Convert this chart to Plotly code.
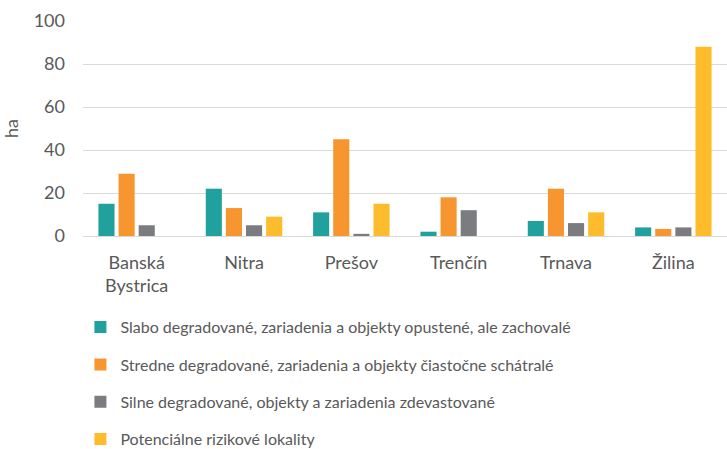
import plotly.graph_objects as go

categories = ["Banská<br>Bystrica", "Nitra", "Prešov", "Trenčín", "Trnava", "Žilina"]
series_names = [
    "Slabo degradované, zariadenia a objekty opustené, ale zachovalé",
    "Stredne degradované, zariadenia a objekty čiastočne schátralé",
    "Silne degradované, objekty a zariadenia zdevastované",
    "Potenciálne rizikové lokality",
]
slabo = [15, 22, 11, 2, 7, 4]
stredne = [29, 13, 45, 18, 22, 3.3]
silne = [5, 5, 1, 12, 6, 4]
potencialne = [0, 9, 15, 0, 11, 88]
colors = ["#21A19E", "#F7952F", "#7B7C80", "#FDBC2C"]
y_ticks = [0, 20, 40, 60, 80, 100]

fig = go.Figure()
for i, (name, vals) in enumerate(zip(series_names, [slabo, stredne, silne, potencialne])):
    fig.add_trace(go.Bar(
        x=categories, y=vals, name=name, legendgroup=f"g{i}",
        marker=dict(color=colors[i], line=dict(width=0)),
    ))

font_family = "Lato, 'Open Sans', sans-serif"
fig.update_layout(
    width=727, height=449,
    margin=dict(l=83, r=0, t=21, b=213, autoexpand=False),
    paper_bgcolor="white", plot_bgcolor="white",
    barmode="group", bargap=0.25, bargroupgap=0.2,
    font=dict(family=font_family, color="#595959", size=16),
    showlegend=True,
    legend=dict(
        orientation="v", x=-0.004, xanchor="left", y=-0.345, yanchor="top",
        font=dict(size=16, color="#595959"), tracegroupgap=13.5,
        itemwidth=30, bgcolor="rgba(0,0,0,0)",
    ),
    xaxis=dict(
        showgrid=False, showline=True, linecolor="#D9D9D9", linewidth=1,
        ticks="", tickfont=dict(size=18, color="#595959"), ticklabelstandoff=10,
        automargin=False,
    ),
    yaxis=dict(
        range=[0, 100], tickvals=y_ticks, showgrid=True, gridcolor="#D9D9D9",
        gridwidth=1, zeroline=False, showline=False, ticks="",
        tickfont=dict(size=18, color="#595959"), ticklabelstandoff=17,
        title=dict(text="ha", font=dict(size=18, color="#595959"), standoff=12),
        automargin=False,
    ),
)
fig.write_html(
    "out.html",
    config={"displayModeBar": False},
    post_script="document.body.style.margin='0';document.body.style.overflow='hidden';",
)
